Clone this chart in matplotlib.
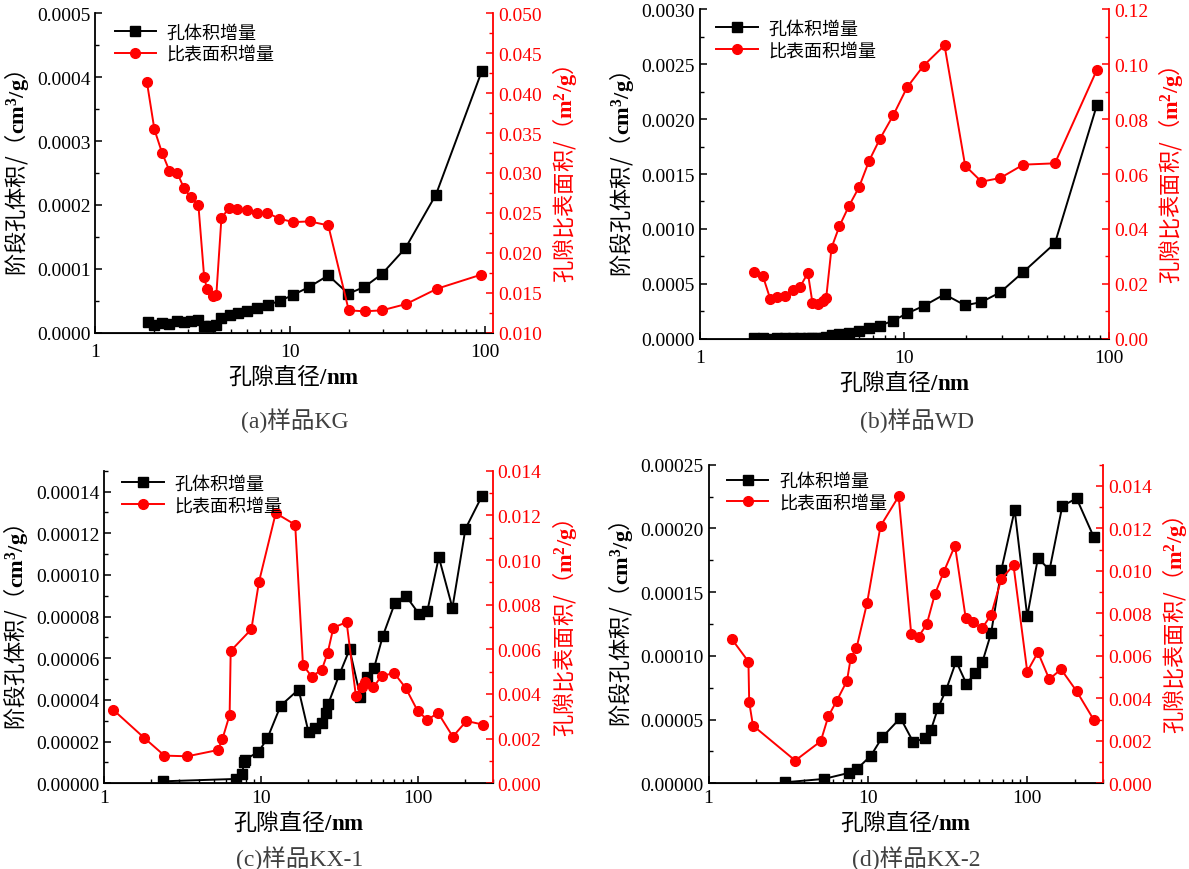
import matplotlib
matplotlib.use('Agg')
import matplotlib.pyplot as plt
from matplotlib.ticker import MultipleLocator, FormatStrFormatter, LogLocator, NullFormatter
from matplotlib.lines import Line2D

plt.rcParams['font.family'] = ['Liberation Serif', 'Noto Sans CJK SC']
plt.rcParams['mathtext.fontset'] = 'custom'
plt.rcParams['mathtext.rm'] = 'Liberation Serif'
plt.rcParams['mathtext.bf'] = 'Liberation Serif:bold'

CJK = ['Noto Sans CJK SC', 'DejaVu Sans']

# (a) sample KG
kg_vx = [1.86, 2.01, 2.20, 2.40, 2.64, 2.85, 3.08, 3.37, 3.62, 3.87, 4.15, 4.44, 4.90, 5.41,
         6.03, 6.78, 7.70, 8.85, 10.4, 12.5, 15.7, 19.9, 24.0, 29.6, 39.1, 56.1, 96.5]
kg_vol = [0.0000172, 0.0000130, 0.0000156, 0.0000146, 0.0000182, 0.0000172, 0.0000182,
          0.0000198, 0.0000109, 0.0000109, 0.0000120, 0.0000234, 0.0000286, 0.0000312,
          0.0000338, 0.0000390, 0.0000442, 0.0000500, 0.0000598, 0.0000718, 0.0000900,
          0.0000614, 0.0000718, 0.0000921, 0.0001327, 0.0002164, 0.0004095]
kg_sx = [1.84, 2.01, 2.20, 2.40, 2.64, 2.85, 3.09, 3.38, 3.62, 3.75, 4.00, 4.18, 4.44, 4.86,
         5.31, 6.00, 6.78, 7.63, 8.81, 10.4, 12.6, 15.7, 20.0, 24.1, 29.6, 39.4, 56.9, 95.6]
kg_sa = [0.04135, 0.03544, 0.03252, 0.03027, 0.02994, 0.02811, 0.02694, 0.02603, 0.01695,
         0.01545, 0.01458, 0.01479, 0.02440, 0.02561, 0.02545, 0.02536, 0.02503, 0.02503,
         0.02428, 0.02386, 0.02395, 0.02345, 0.01283, 0.01271, 0.01283, 0.01362, 0.01554,
         0.01729]

# (b) sample WD
wd_x = [1.83, 2.03, 2.21, 2.39, 2.60, 2.84, 3.09, 3.37, 3.55, 3.78, 4.00, 4.14, 4.40, 4.81,
        5.36, 5.99, 6.72, 7.58, 8.81, 10.3, 12.4, 15.7, 19.8, 23.8, 29.4, 38.1, 54.4, 87.2]
wd_vol = [0.000005, 0.000006, 0.000004, 0.000006, 0.000008, 0.000010, 0.000010, 0.000012,
          0.000012, 0.000013, 0.000013, 0.000015, 0.0000394, 0.0000424, 0.0000576, 0.0000758,
          0.000103, 0.000121, 0.000167, 0.000233, 0.000300, 0.000406, 0.000306, 0.000336,
          0.000424, 0.000609, 0.000870, 0.002124]
wd_sa = [0.02436, 0.02291, 0.01442, 0.01515, 0.01564, 0.01782, 0.01903, 0.02400, 0.01309,
         0.01285, 0.01382, 0.01479, 0.03321, 0.04109, 0.04848, 0.05515, 0.06485, 0.07273,
         0.08133, 0.09152, 0.09940, 0.10679, 0.06303, 0.05721, 0.05855, 0.06340, 0.06388,
         0.09782]

# (c) sample KX-1
kx1_vx = [2.38, 6.93, 7.60, 7.75, 7.84, 9.59, 10.97, 13.34, 17.35, 20.07, 22.2, 24.5, 25.8,
          26.8, 31.6, 36.7, 43.0, 47.5, 52.6, 59.7, 71.4, 83.5, 101.6, 115, 136, 166, 201, 256]
kx1_vol = [0.00000096, 0.0000021, 0.0000045, 0.0000101, 0.0000114, 0.0000149, 0.0000216,
           0.0000373, 0.0000450, 0.0000245, 0.0000266, 0.0000290, 0.0000338, 0.0000381,
           0.0000523, 0.0000643, 0.0000413, 0.0000512, 0.0000555, 0.0000706, 0.0000866,
           0.0000901, 0.0000813, 0.0000829, 0.0001085, 0.0000842, 0.0001221, 0.0001378]
kx1_sx = [1.137, 1.80, 2.42, 3.39, 5.30, 5.67, 6.30, 6.40, 8.67, 9.70, 12.4, 16.5, 18.5, 21.0,
          24.4, 26.6, 28.9, 35.1, 40.2, 44.0, 46.2, 52.0, 58.8, 70.7, 83.6, 100, 115, 134.5,
          167, 204, 260]
kx1_sa = [0.00330, 0.00203, 0.00124, 0.00121, 0.00149, 0.00199, 0.00306, 0.00593, 0.00690,
          0.00903, 0.01210, 0.01158, 0.00530, 0.00478, 0.00509, 0.00585, 0.00697, 0.00722,
          0.00393, 0.00433, 0.00452, 0.00430, 0.00482, 0.00493, 0.00427, 0.00322, 0.00285,
          0.00315, 0.00209, 0.00279, 0.00263]

# (d) sample KX-2
kx2_vx = [3.0, 5.28, 7.56, 8.53, 10.45, 12.3, 16.0, 19.3, 22.9, 24.9, 27.5, 31.0, 35.8, 41.5,
          47.1, 52.3, 59.3, 68.8, 83.4, 100, 116.7, 138, 166, 204, 261]
kx2_vol = [0.00000078, 0.0000034, 0.0000081, 0.0000112, 0.0000217, 0.0000361, 0.0000513,
           0.0000322, 0.0000356, 0.0000421, 0.0000588, 0.0000735, 0.0000957, 0.0000782,
           0.0000863, 0.0000952, 0.0001177, 0.0001674, 0.0002144, 0.0001310, 0.0001768,
           0.0001674, 0.0002176, 0.0002236, 0.0001935]
kx2_sx = [1.40, 1.78, 1.80, 1.90, 3.50, 5.06, 5.65, 6.37, 7.39, 7.81, 8.48, 9.89, 12.0, 15.6,
          18.7, 20.8, 23.4, 26.3, 29.9, 35.2, 41.1, 45.8, 52.0, 59.3, 68.8, 82.0, 100, 116.7,
          137.5, 163, 204, 261]
kx2_sa = [0.00679, 0.00573, 0.00382, 0.00272, 0.00107, 0.00198, 0.00316, 0.00388, 0.00482,
          0.00591, 0.00636, 0.00850, 0.01211, 0.01351, 0.00704, 0.00691, 0.00748, 0.00889,
          0.00995, 0.01119, 0.00778, 0.00759, 0.00729, 0.00793, 0.00963, 0.01026, 0.00526,
          0.00617, 0.00490, 0.00537, 0.00434, 0.00300]

captions = ['(a)样品KG', '(b)样品WD', '(c)样品KX-1', '(d)样品KX-2']


def panel(fig, rect, vx, vol, sx, sa, xmax, yl, yr, ymaj, rmaj, yfmt, rfmt,
          caption, cap_xy, leg_xy, xpad):
    ax = fig.add_axes(rect)
    ax2 = ax.twinx()
    ax.plot(vx, vol, color='black', marker='s', markersize=6.5, linewidth=1.4)
    ax2.plot(sx, sa, color='red', marker='o', markersize=7, linewidth=1.4)

    ax.set_xscale('log')
    ax.set_xlim(1, xmax)
    ax.set_xticks([1, 10, 100])
    ax.set_xticklabels(['1', '10', '100'])
    ax.xaxis.set_minor_locator(LogLocator(base=10, subs=range(2, 10)))
    ax.xaxis.set_minor_formatter(NullFormatter())

    ax.set_ylim(*yl)
    ax.yaxis.set_major_locator(MultipleLocator(ymaj))
    ax.yaxis.set_minor_locator(MultipleLocator(ymaj / 2))
    ax.yaxis.set_major_formatter(FormatStrFormatter(yfmt))
    ax2.set_ylim(*yr)
    ax2.yaxis.set_major_locator(MultipleLocator(rmaj))
    ax2.yaxis.set_minor_locator(MultipleLocator(rmaj / 2))
    ax2.yaxis.set_major_formatter(FormatStrFormatter(rfmt))

    for a in (ax, ax2):
        a.spines['top'].set_visible(False)
        a.tick_params(which='both', direction='in', labelsize=14)
        a.tick_params(which='major', length=5, width=1.1)
        a.tick_params(which='minor', length=3, width=1.0)
    ax.tick_params(axis='x', which='both', pad=xpad)
    ax.spines['right'].set_visible(False)
    ax2.spines['left'].set_visible(False)
    ax2.spines['right'].set_color('red')
    ax2.spines['right'].set_linewidth(1.3)
    ax.spines['left'].set_linewidth(1.3)
    ax.spines['bottom'].set_linewidth(1.3)
    ax2.tick_params(axis='y', which='both', colors='red')

    ax.set_xlabel('孔隙直径$\\mathbf{/nm}$', fontsize=16.5, family=CJK, labelpad=2)
    ax.set_ylabel('阶段孔体积/（$\\mathbf{cm^3/g}$）', fontsize=16, family=CJK, labelpad=4)
    ax2.set_ylabel('孔隙比表面积/（$\\mathbf{m^2/g}$）', fontsize=16, family=CJK,
                   color='red', labelpad=6)

    handles = [Line2D([], [], color='black', marker='s', markersize=6.5, linewidth=1.4),
               Line2D([], [], color='red', marker='o', markersize=7, linewidth=1.4)]
    ax2.legend(handles, ['孔体积增量', '比表面积增量'], loc='upper left',
               bbox_to_anchor=leg_xy, frameon=False, prop={'family': CJK, 'size': 13},
               handlelength=2.3, labelspacing=0.2, handletextpad=0.6, borderaxespad=0)

    fig.text(cap_xy[0], cap_xy[1], caption, ha='center', va='center', fontsize=17,
             color='#404040', family=['Liberation Serif', 'Noto Sans CJK SC'])
    return ax


fig = plt.figure(figsize=(11.89, 8.70), dpi=100)

panel(fig, [0.0802, 0.6161, 0.3344, 0.3678], kg_vx, kg_vol, kg_sx, kg_sa, 110,
      (0, 0.0005), (0.010, 0.050), 0.0001, 0.005, '%.4f', '%.3f',
      captions[0], (0.248, 0.517), (0.03, 0.99), 7)
panel(fig, [0.5887, 0.6092, 0.3440, 0.3793], wd_x, wd_vol, wd_x, wd_sa, 100,
      (0, 0.0030), (0, 0.12), 0.0005, 0.02, '%.4f', '%.2f',
      captions[1], (0.771, 0.517), (0.022, 0.99), 7)
panel(fig, [0.0877, 0.0985, 0.3267, 0.3593], kx1_vx, kx1_vol, kx1_sx, kx1_sa, 300,
      (0, 0.00015), (0, 0.014), 0.00002, 0.002, '%.5f', '%.3f',
      captions[2], (0.252, 0.0135), (0.028, 1.01), 4)
panel(fig, [0.5959, 0.0985, 0.3320, 0.3662], kx2_vx, kx2_vol, kx2_sx, kx2_sa, 300,
      (0, 0.00025), (0, 0.015), 0.00005, 0.002, '%.5f', '%.3f',
      captions[3], (0.771, 0.0135), (0.028, 1.0), 4)

fig.savefig('out.png', dpi=100)
